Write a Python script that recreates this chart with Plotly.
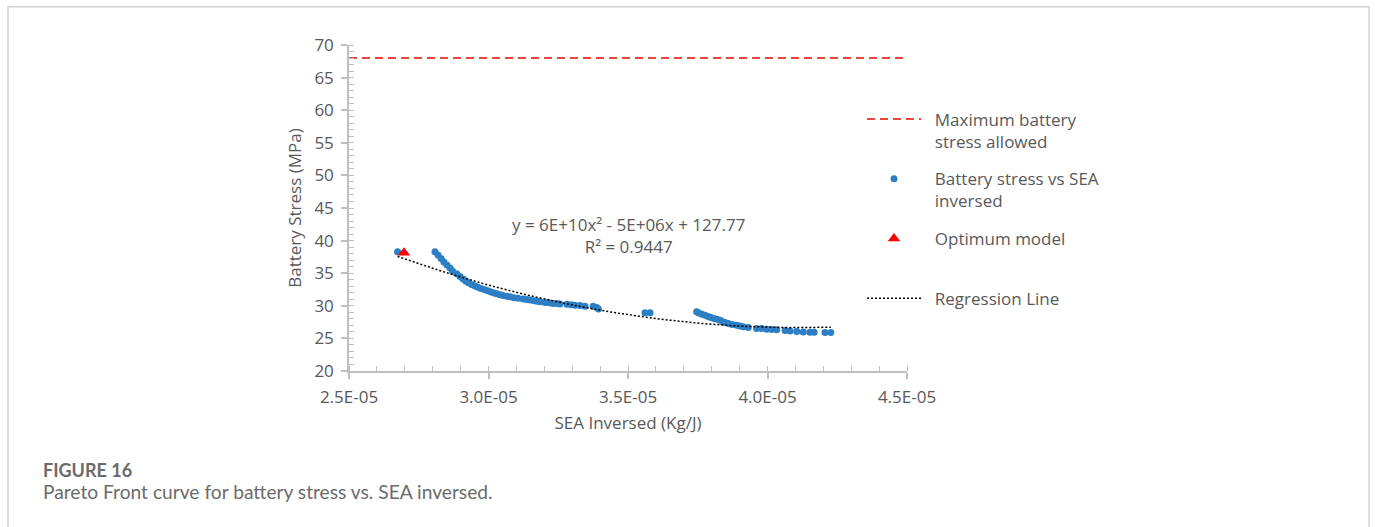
import numpy as np
import plotly.graph_objects as go

# ---- data (x in units of 1e-5 Kg/J) ----
sea_inv_e5 = [
    2.674,
    2.808, 2.819, 2.830, 2.840, 2.851, 2.862, 2.871, 2.886, 2.898, 2.909,
    2.919, 2.930, 2.941, 2.952, 2.962, 2.973, 2.987, 2.998,
    3.009, 3.020, 3.030, 3.041, 3.052, 3.066, 3.077, 3.091, 3.106, 3.124,
    3.138, 3.149, 3.163, 3.174, 3.185, 3.203, 3.217, 3.231, 3.246, 3.256,
    3.281, 3.296, 3.310, 3.328, 3.346, 3.375, 3.388, 3.394,
    3.561, 3.579,
    3.746, 3.754, 3.765, 3.776, 3.787, 3.797, 3.808, 3.819, 3.830, 3.839,
    3.848, 3.860, 3.873, 3.890, 3.901, 3.913, 3.931, 3.961, 3.979, 3.997,
    4.015, 4.033, 4.063, 4.081, 4.105, 4.128, 4.152, 4.167, 4.206, 4.227,
]
battery_stress = [
    38.30,
    38.30, 37.80, 37.26, 36.72, 36.26, 35.80, 35.34, 34.90, 34.50, 34.10,
    33.77, 33.50, 33.23, 33.03, 32.83, 32.65, 32.45, 32.31,
    32.10, 31.95, 31.83, 31.68, 31.57, 31.45, 31.38, 31.25, 31.14, 31.06,
    30.95, 30.88, 30.77, 30.70, 30.62, 30.52, 30.45, 30.37, 30.34, 30.26,
    30.22, 30.15, 30.10, 30.03, 29.95, 29.95, 29.75, 29.50,
    28.95, 28.95,
    29.08, 28.90, 28.72, 28.54, 28.37, 28.22, 28.06, 27.92, 27.80, 27.57,
    27.42, 27.29, 27.14, 27.03, 26.91, 26.77, 26.68, 26.52, 26.52, 26.42,
    26.37, 26.31, 26.22, 26.15, 26.06, 26.00, 25.95, 25.95, 25.91, 25.91,
]
optimum_x_e5 = [2.697]
optimum_y = [38.15]
max_stress = 68
x_range_e5 = [2.5, 4.5]
x_tick_vals_e5 = [2.5, 3.0, 3.5, 4.0, 4.5]
x_tick_text = ["2.5E-05", "3.0E-05", "3.5E-05", "4.0E-05", "4.5E-05"]

E5 = 1e-5
xs = np.array(sea_inv_e5) * E5
ys = np.array(battery_stress)

# quadratic regression (like the spreadsheet trendline)
coef = np.polyfit(xs, ys, 2)
xr = np.linspace(xs.min(), xs.max(), 200)
yr = np.polyval(coef, xr)

GRAY = "#595959"
FONT = "Open Sans"
FS = 17
IND = "&nbsp;&nbsp;"

fig = go.Figure()
fig.add_trace(go.Scatter(
    x=[x_range_e5[0] * E5, x_range_e5[1] * E5], y=[max_stress, max_stress],
    mode="lines", name=IND + "Maximum battery<br>" + IND + "stress allowed",
    line=dict(color="#E8473F", width=2, dash="8px,5px"),
    legendgroup="a"))
fig.add_trace(go.Scatter(
    x=xs, y=ys, mode="markers", name=IND + "Battery stress vs SEA<br>" + IND + "inversed",
    marker=dict(color="#2C7FC4", size=7), legendgroup="b"))
fig.add_trace(go.Scatter(
    x=np.array(optimum_x_e5) * E5, y=optimum_y, mode="markers",
    name=IND + "Optimum model<br>&nbsp;",
    marker=dict(color="#FF0000", size=11, symbol="triangle-up"),
    legendgroup="c"))
fig.add_trace(go.Scatter(
    x=xr, y=yr, mode="lines", name=IND + "Regression Line",
    line=dict(color="#000000", width=1.5, dash="2px,2px"),
    legendgroup="d"))

fig.add_annotation(
    x=3.5 * E5, y=40.8, xref="x", yref="y", showarrow=False,
    text="y = 6E+10x² - 5E+06x + 127.77<br>R² = 0.9447",
    font=dict(family=FONT, size=FS, color=GRAY), align="center")

# caption
fig.add_annotation(xref="paper", yref="paper", x=(41 - 349) / 558, y=(371 - 470) / 326,
                   xanchor="left", yanchor="middle", showarrow=False,
                   text="<b>FIGURE 16</b>", font=dict(family="Lato", size=18, color="#6b6b6b"))
fig.add_annotation(xref="paper", yref="paper", x=(41 - 349) / 558, y=(371 - 491) / 326,
                   xanchor="left", yanchor="middle", showarrow=False,
                   text="Pareto Front curve for battery stress vs. SEA inversed.",
                   font=dict(family="Lato", size=19.2, color="#6b6b6b"))

# outer frame
fig.add_shape(type="rect", xref="paper", yref="paper",
              x0=(8 - 349) / 558, x1=(1369 - 349) / 558,
              y0=(371 - 540) / 326, y1=(371 - 6.7) / 326,
              line=dict(color="#d3d3d3", width=1.5), fillcolor="rgba(0,0,0,0)")

axis_common = dict(
    showgrid=False, zeroline=False, showline=True, linecolor="#bfbfbf", linewidth=1.5,
    ticks="outside", ticklen=6, tickcolor="#bfbfbf", tickwidth=1.5,
    tickfont=dict(family=FONT, size=FS, color=GRAY),
)
fig.update_xaxes(
    range=[x_range_e5[0] * E5, x_range_e5[1] * E5],
    tickvals=[v * E5 for v in x_tick_vals_e5], ticktext=x_tick_text,
    ticklabelstandoff=4,
    minor=dict(ticks="inside", ticklen=5, tickcolor="#bfbfbf", tickwidth=1.2,
               dtick=0.1 * E5, tick0=2.5 * E5),
    title=dict(text="SEA Inversed (Kg/J)", font=dict(family=FONT, size=FS, color=GRAY), standoff=10),
    **axis_common)
fig.update_yaxes(
    range=[20, 70], dtick=5, tick0=20,
    ticklabelstandoff=4,
    minor=dict(ticks="inside", ticklen=5, tickcolor="#bfbfbf", tickwidth=1.2, dtick=1),
    title=dict(text="Battery Stress (MPa)", font=dict(family=FONT, size=FS, color=GRAY), standoff=8),
    **axis_common)

fig.update_layout(
    width=1375, height=527, autosize=False,
    margin=dict(l=349, r=468, t=45, b=156),
    paper_bgcolor="white", plot_bgcolor="white",
    showlegend=True,
    legend=dict(x=(862 - 349) / 558, xanchor="left", y=(371 - 101.5) / 326, yanchor="top",
                valign="top", itemwidth=54, tracegroupgap=12.5, traceorder="grouped",
                font=dict(family=FONT, size=FS, color=GRAY), bgcolor="rgba(0,0,0,0)"),
)

fig.write_html("out.html")
